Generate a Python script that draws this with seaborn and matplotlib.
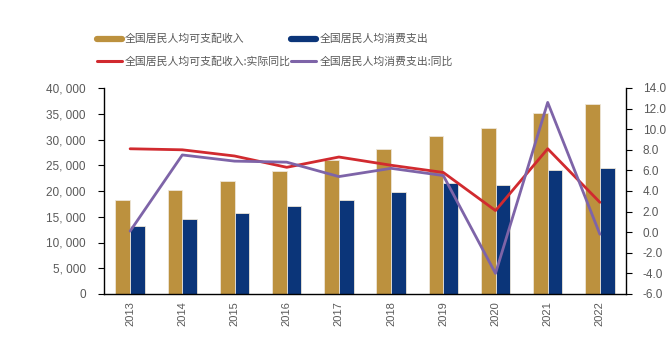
import numpy as np
import pandas as pd
import matplotlib
matplotlib.use("Agg")
import matplotlib.pyplot as plt
from matplotlib.lines import Line2D
from matplotlib.ticker import FuncFormatter, MultipleLocator
import seaborn as sns

years = ["2013", "2014", "2015", "2016", "2017", "2018", "2019", "2020", "2021", "2022"]
income = [18311, 20167, 21966, 23821, 25974, 28228, 30733, 32189, 35128, 36883]
consumption = [13220, 14491, 15712, 17111, 18322, 19853, 21559, 21210, 24100, 24538]
income_growth = [8.1, 8.0, 7.4, 6.3, 7.3, 6.5, 5.8, 2.1, 8.1, 2.9]
consumption_growth = [0.1, 7.5, 6.9, 6.8, 5.4, 6.2, 5.5, -4.0, 12.6, -0.2]

name_inc = "全国居民人均可支配收入"
name_con = "全国居民人均消费支出"
name_inc_g = "全国居民人均可支配收入:实际同比"
name_con_g = "全国居民人均消费支出:同比"

c_gold = "#BC913E"
c_blue = "#0B3579"
c_red = "#D12A2F"
c_purple = "#7E64A8"
gray = "#595959"

sns.set_style("white")
plt.rcParams["font.family"] = ["Liberation Sans", "Noto Sans CJK SC", "DejaVu Sans"]

df = pd.DataFrame({
    "year": years * 2,
    "value": income + consumption,
    "series": [name_inc] * len(years) + [name_con] * len(years),
})

fig = plt.figure(figsize=(6.71, 3.58), dpi=100)
ax = fig.add_axes([104 / 671, 1 - 294 / 358, (626 - 104) / 671, (294 - 88) / 358])

sns.barplot(data=df, x="year", y="value", hue="series", palette=[c_gold, c_blue],
            saturation=1, width=0.56, ax=ax, edgecolor="#EDE6D8", linewidth=0.6,
            legend=False)
ax.set_xlim(-0.5, len(years) - 0.5)
ax.set_ylim(0, 40000)
ax.yaxis.set_major_locator(MultipleLocator(5000))
ax.yaxis.set_major_formatter(FuncFormatter(lambda v, p: f"{v:,.0f}".replace(",", ", ")))
ax.set_xlabel("")
ax.set_ylabel("")

ax2 = ax.twinx()
xs = np.arange(len(years))
sns.lineplot(x=xs, y=income_growth, color=c_red, lw=2, ax=ax2)
sns.lineplot(x=xs, y=consumption_growth, color=c_purple, lw=2, ax=ax2)
ax2.set_ylim(-6, 14)
ax2.yaxis.set_major_locator(MultipleLocator(2))
ax2.yaxis.set_major_formatter(FuncFormatter(lambda v, p: f"{v:.1f}"))
ax.set_xlim(-0.5, len(years) - 0.5)

for a in (ax, ax2):
    for s in a.spines.values():
        s.set_visible(False)
ax.spines["left"].set_visible(True)
ax.spines["bottom"].set_visible(True)
ax2.spines["right"].set_visible(True)
for s in [ax.spines["left"], ax.spines["bottom"], ax2.spines["right"]]:
    s.set_color("black")
    s.set_linewidth(1)

ax.set_xticks(np.arange(len(years) + 1) - 0.5, minor=False)
ax.set_xticklabels([])
ax.set_xticks(xs, minor=True)
ax.set_xticklabels(years, minor=True, rotation=90)
ax.tick_params(axis="x", which="major", direction="out", length=4, color="black")
ax.tick_params(axis="x", which="minor", length=0, labelsize=8, labelcolor=gray, pad=5)
ax.tick_params(axis="y", direction="out", length=4, left=True, color="black",
               labelsize=8.5, labelcolor=gray, pad=9)
ax2.tick_params(axis="y", direction="out", length=4, right=True, color="black",
                labelsize=8.5, labelcolor=gray, pad=8)

handles = [
    Line2D([0], [0], color=c_gold, lw=4.5),
    Line2D([0], [0], color=c_red, lw=2.2),
    Line2D([0], [0], color=c_blue, lw=4.5),
    Line2D([0], [0], color=c_purple, lw=2.2),
]
labels = [name_inc, name_inc_g, name_con, name_con_g]
fig.legend(handles, labels, loc="upper left", bbox_to_anchor=(97 / 671, 1 - 34 / 358),
           ncol=2, frameon=False, borderpad=0, borderaxespad=0,
           handlelength=2.3, handletextpad=0.3, columnspacing=0.0, labelspacing=1.1,
           prop={"family": ["Noto Sans CJK SC", "DejaVu Sans"], "size": 7.8},
           labelcolor=gray)

fig.savefig("out.png", dpi=100)
